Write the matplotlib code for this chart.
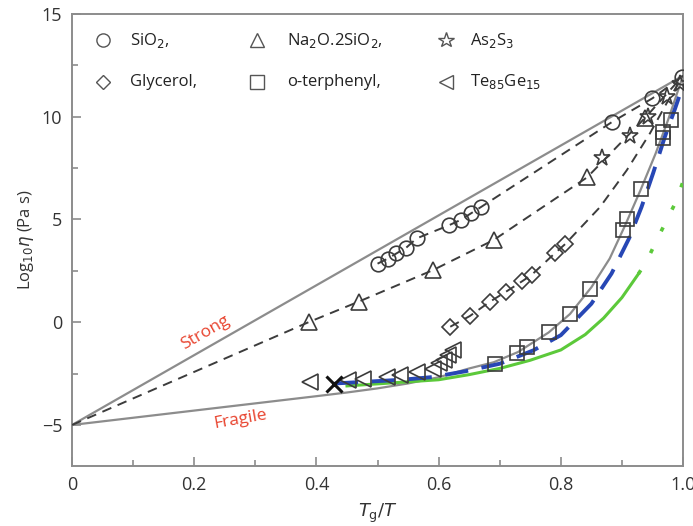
import matplotlib
matplotlib.use("Agg")
import matplotlib.pyplot as plt
from matplotlib.lines import Line2D
from matplotlib.ticker import MultipleLocator

plt.rcParams['font.family'] = ['Open Sans', 'DejaVu Sans']
plt.rcParams['mathtext.fontset'] = 'dejavusans'

# reference lines (Tg/T, log10 eta)
strong_x = [0.0, 1.0]
strong_y = [-5.0, 12.0]
fragile_x = [0.0, 0.1, 0.2, 0.3, 0.4, 0.45, 0.5, 0.55, 0.6, 0.65, 0.69, 0.73,
             0.78, 0.815, 0.85, 0.88, 0.905, 0.93, 0.955, 0.975, 1.0]
fragile_y = [-5.0, -4.65, -4.3, -3.95, -3.6, -3.42, -3.22, -2.98, -2.68, -2.25,
             -1.95, -1.45, -0.5, 0.4, 1.7, 3.1, 4.7, 6.4, 8.2, 9.8, 12.0]

# measured glasses
sio2_x = [0.50, 0.517, 0.531, 0.547, 0.564, 0.617, 0.636, 0.653, 0.670, 0.884, 0.950, 0.998]
sio2_y = [2.85, 3.1, 3.35, 3.63, 4.08, 4.72, 4.98, 5.3, 5.62, 9.75, 10.9, 11.95]
na2o_x = [0.387, 0.469, 0.591, 0.690, 0.843, 0.938]
na2o_y = [0.0, 1.0, 2.54, 4.0, 7.05, 9.95]
as2s3_x = [0.868, 0.914, 0.942, 0.973, 0.995]
as2s3_y = [8.0, 9.05, 10.0, 10.95, 11.6]
glyc_x = [0.619, 0.651, 0.684, 0.710, 0.737, 0.752, 0.790, 0.807]
glyc_y = [-0.22, 0.3, 1.0, 1.48, 2.0, 2.3, 3.35, 3.8]
glyc_tail_x = [0.864, 0.908, 0.946, 0.973, 1.0]
glyc_tail_y = [5.6, 7.4, 9.2, 10.65, 12.0]
oter_x = [0.692, 0.728, 0.745, 0.780, 0.815, 0.847, 0.902, 0.909, 0.932, 0.967, 0.968, 0.981]
oter_y = [-2.02, -1.5, -1.2, -0.47, 0.42, 1.6, 4.5, 5.0, 6.47, 8.96, 9.28, 9.85]
tege_x = [0.39, 0.452, 0.477, 0.515, 0.537, 0.564, 0.591, 0.600, 0.608, 0.616, 0.624]
tege_y = [-2.91, -2.83, -2.75, -2.67, -2.59, -2.42, -2.26, -2.0, -1.85, -1.6, -1.37]
cross_x = [0.428]
cross_y = [-2.99]

# model curves
blue_x = [0.43, 0.48, 0.54, 0.59, 0.645, 0.70, 0.755, 0.80, 0.85, 0.883, 0.912,
          0.932, 0.951, 0.970, 0.987, 0.995]
blue_y = [-2.98, -2.9, -2.8, -2.67, -2.38, -2.02, -1.37, -0.63, 0.9, 2.37, 4.1,
          5.6, 7.25, 9.0, 10.4, 11.1]
green_x = [0.45, 0.5, 0.55, 0.6, 0.65, 0.7, 0.75, 0.8, 0.84, 0.87, 0.9, 0.927]
green_y = [-3.1, -3.0, -2.9, -2.8, -2.55, -2.25, -1.85, -1.35, -0.6, 0.2, 1.2, 2.35]
green_dot_x = [0.927, 0.941, 0.957, 0.973, 0.989, 1.0]
green_dot_y = [2.35, 3.0, 4.0, 4.95, 5.9, 6.85]

GRAY = '#8c8c8c'
DARK = '#3c3c3c'
dash = (0, (5, 3.5))

fig = plt.figure(figsize=(6.93, 5.26), dpi=100)
ax = fig.add_axes([0.104, 0.114, 0.8816, 0.8593])

ax.plot(strong_x, strong_y, color=GRAY, lw=1.6, zorder=2)
ax.plot(fragile_x, fragile_y, color=GRAY, lw=1.6, zorder=2)

ax.plot(green_x, green_y, color='#5cc93a', lw=2.2, zorder=3)
ax.plot(green_dot_x, green_dot_y, color='#5cc93a', lw=2.6,
        linestyle=(0, (1.2, 5.5)), zorder=3)
ax.plot(blue_x, blue_y, color='#2747b5', lw=2.8, linestyle=(0, (6, 3.5)), zorder=4)

# dashed guides through the glass data
ax.plot(sio2_x, sio2_y, color=DARK, lw=1.4, linestyle=dash, zorder=3)
ax.plot([0.0] + na2o_x + [1.0], [-5.0] + na2o_y + [12.0], color=DARK, lw=1.4,
        linestyle=dash, zorder=3)
ax.plot(glyc_x + glyc_tail_x, glyc_y + glyc_tail_y, color=DARK, lw=1.4,
        linestyle=dash, zorder=3)

mk = dict(linestyle='none', markerfacecolor='none', markeredgecolor=DARK,
          markeredgewidth=1.2, zorder=5)
ax.plot(sio2_x, sio2_y, marker='o', markersize=10.5, **mk)
ax.plot(na2o_x, na2o_y, marker='^', markersize=11.5, **mk)
ax.plot(as2s3_x, as2s3_y, marker='*', markersize=12.5, **mk)
ax.plot(glyc_x, glyc_y, marker='D', markersize=8.5, **mk)
ax.plot(oter_x, oter_y, marker='s', markersize=10.5, **mk)
ax.plot(tege_x, tege_y, marker='<', markersize=11.5, **mk)
ax.plot(cross_x, cross_y, marker='x', markersize=11, markeredgewidth=2.2,
        color='#111111', linestyle='none', zorder=6)

ax.text(0.218, -0.5, 'Strong', color='#e8432e', fontsize=12.5, rotation=30,
        ha='center', va='center')
ax.text(0.275, -4.75, 'Fragile', color='#e8432e', fontsize=12.5, rotation=10,
        ha='center', va='center')

# legend as two rows of three
entries = [('o', 10, 'SiO$_2$,'), ('^', 11, 'Na$_2$O.2SiO$_2$,'), ('*', 12, 'As$_2$S$_3$'),
           ('D', 8, 'Glycerol,'), ('s', 10, 'o-terphenyl,'), ('<', 11, 'Te$_{85}$Ge$_{15}$')]
mx = [0.051, 0.303, 0.612]
tx = [0.095, 0.352, 0.651]
ry = [0.942, 0.850]
for i, (m, ms, label) in enumerate(entries):
    r, c = divmod(i, 3)
    ax.add_line(Line2D([mx[c]], [ry[r]], marker=m, markersize=ms * 0.95,
                       markerfacecolor='none', markeredgecolor='#555555',
                       markeredgewidth=1.0, linestyle='none',
                       transform=ax.transAxes))
    ax.text(tx[c], ry[r], label, transform=ax.transAxes, fontsize=12,
            color='#222222', va='center', ha='left')

ax.set_xlim(0, 1.0)
ax.set_ylim(-7, 15)
ax.xaxis.set_major_locator(MultipleLocator(0.2))
ax.xaxis.set_minor_locator(MultipleLocator(0.1))
ax.yaxis.set_major_locator(MultipleLocator(5))
ax.yaxis.set_minor_locator(MultipleLocator(2.5))
ax.set_xticks([0, 0.2, 0.4, 0.6, 0.8, 1.0])
ax.set_xticklabels(['0', '0.2', '0.4', '0.6', '0.8', '1.0'])
ax.tick_params(which='both', direction='in', color=GRAY, width=1.2,
               labelsize=13, labelcolor='#333333', pad=7)
ax.tick_params(which='major', length=6.5)
ax.tick_params(which='minor', length=4.5)
for s in ax.spines.values():
    s.set_color(GRAY)
    s.set_linewidth(1.4)

ax.set_xlabel(r'$T_{\rm g}/T$', fontsize=13, color='#333333', labelpad=6)
ax.set_ylabel(r'Log$_{10}\eta$ (Pa s)', fontsize=12, color='#333333', labelpad=4)

fig.savefig('out.png', dpi=100)
